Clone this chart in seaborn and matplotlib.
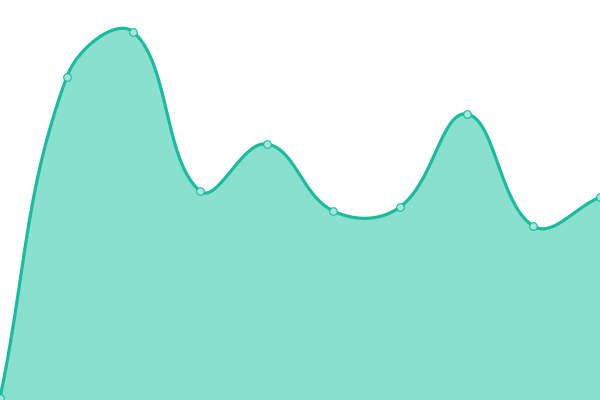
import numpy as np
import pandas as pd
import matplotlib
matplotlib.use("Agg")
import matplotlib.pyplot as plt
import seaborn as sns

# values (y axis 0..400)
labels = ["p1", "p2", "p3", "p4", "p5", "p6", "p7", "p8", "p9", "p10"]
values = [2, 323, 368, 209, 256, 189, 193, 286, 174, 203]

LINE = "#1abc9c"
FILL = "#8ae0ce"
DOT = "#a3e8da"


def spline_curve(xs, ys, tension=0.4, sx=600 / 9, sy=1.0, steps=40):
    # chart.js style cubic bezier smoothing, distances measured in pixels
    px = np.asarray(xs, float) * sx
    py = np.asarray(ys, float) * sy
    n = len(px)
    cp_prev = np.zeros((n, 2))
    cp_next = np.zeros((n, 2))
    for i in range(n):
        p0 = (px[max(i - 1, 0)], py[max(i - 1, 0)])
        p1 = (px[i], py[i])
        p2 = (px[min(i + 1, n - 1)], py[min(i + 1, n - 1)])
        d01 = np.hypot(p1[0] - p0[0], p1[1] - p0[1])
        d12 = np.hypot(p2[0] - p1[0], p2[1] - p1[1])
        tot = d01 + d12
        s01 = d01 / tot if tot else 0
        s12 = d12 / tot if tot else 0
        fa, fb = tension * s01, tension * s12
        cp_prev[i] = (p1[0] - fa * (p2[0] - p0[0]), p1[1] - fa * (p2[1] - p0[1]))
        cp_next[i] = (p1[0] + fb * (p2[0] - p0[0]), p1[1] + fb * (p2[1] - p0[1]))
    out_x, out_y = [], []
    t = np.linspace(0, 1, steps)
    for i in range(n - 1):
        a = np.array([px[i], py[i]])
        b = cp_next[i]
        c = cp_prev[i + 1]
        d = np.array([px[i + 1], py[i + 1]])
        pts = ((1 - t) ** 3)[:, None] * a + (3 * (1 - t) ** 2 * t)[:, None] * b \
            + (3 * (1 - t) * t ** 2)[:, None] * c + (t ** 3)[:, None] * d
        out_x.extend(pts[:, 0] / sx)
        out_y.extend(pts[:, 1] / sy)
    return np.array(out_x), np.array(out_y)


sns.set_style("white")
fig = plt.figure(figsize=(6, 4), dpi=100)
ax = fig.add_axes([0, 0, 1, 1])

idx = np.arange(len(values))
cx, cy = spline_curve(idx, values)
curve = pd.DataFrame({"x": cx, "y": cy})
pts = pd.DataFrame({"x": idx, "y": values, "label": labels})

ax.fill_between(cx, 0, cy, color=FILL, lw=0, zorder=1)
sns.lineplot(data=curve, x="x", y="y", sort=False, color=LINE, lw=2.3, ax=ax, zorder=2)
sns.scatterplot(data=pts, x="x", y="y", s=30, color=DOT, edgecolor=LINE,
                linewidth=0.8, ax=ax, zorder=3, clip_on=True)

ax.set_xlim(0, len(values) - 1)
ax.set_ylim(0, 400)
ax.axis("off")

fig.savefig("out.png", dpi=100)
